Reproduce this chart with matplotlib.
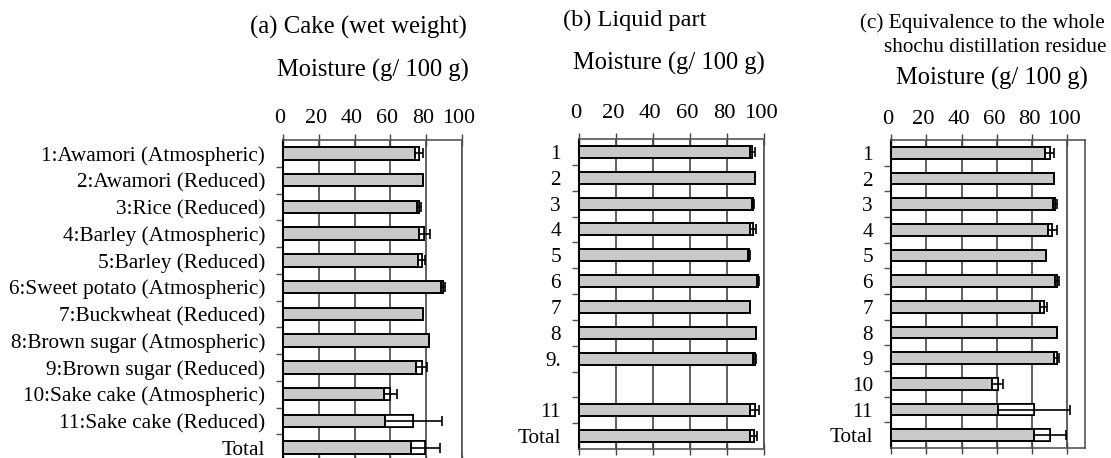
import matplotlib
matplotlib.use('Agg')
import matplotlib.pyplot as plt
from matplotlib.transforms import ScaledTranslation
import numpy as np

plt.rcParams['font.family'] = ['Liberation Serif', 'DejaVu Serif']

# category labels
labels_a = ['1:Awamori (Atmospheric)', '2:Awamori (Reduced)', '3:Rice (Reduced)',
            '4:Barley (Atmospheric)', '5:Barley (Reduced)', '6:Sweet potato (Atmospheric)',
            '7:Buckwheat (Reduced)', '8:Brown sugar (Atmospheric)', '9:Brown sugar (Reduced)',
            '10:Sake cake (Atmospheric)', '11:Sake cake (Reduced)', 'Total']
labels_b = ['1', '2', '3', '4', '5', '6', '7', '8', '9.', '', '11', 'Total']
labels_c = ['1', '2', '3', '4', '5', '6', '7', '8', '9', '10', '11', 'Total']
xticks = [0, 20, 40, 60, 80, 100]

# moisture (g/100 g) and error
cake = [76, 78, 76, 79, 77.5, 89.5, 78, 81.7, 77.5, 60, 72.8, 79.5]
cake_err = [2, 0, 1, 3, 2, 1, 0, 0, 3, 3.5, 15.8, 8]
liquid = [93.7, 95.1, 94, 94, 91.9, 96.8, 92.3, 95.5, 95, np.nan, 95, 94.4]
liquid_err = [1.5, 0, 0.6, 1.5, 0.6, 0.6, 0, 0, 0.8, 0, 2.5, 2]
whole = [90, 92.6, 93, 91.5, 88, 94, 86.5, 94, 94, 60.4, 80.9, 90]
whole_err = [2.5, 0, 1, 2.5, 0, 1, 2.2, 0, 1.5, 3.3, 20.5, 9]

W, H = 1111, 458
fig = plt.figure(figsize=(W / 100, H / 100), dpi=100)


def px_axes(l, t, r, b):
    return fig.add_axes([l / W, 1 - b / H, (r - l) / W, (b - t) / H])


def panel(ax, vals, errs, labels, xmax, ticksize, tickpad):
    y = np.arange(len(labels))
    vals = np.array(vals, dtype=float)
    errs = np.array(errs, dtype=float)
    ok = ~np.isnan(vals)
    ax.barh(y[ok], vals[ok], height=0.46, color='#c9c9c9', edgecolor='black',
            linewidth=1.4, zorder=3)
    # excel-like error bar: open box on the lower half, whisker on the upper
    e = ok & (errs > 0)
    ax.barh(y[e], errs[e], left=vals[e] - errs[e], height=0.46, color='white',
            edgecolor='black', linewidth=1.2, zorder=4)
    ax.errorbar(vals[e], y[e], xerr=errs[e], fmt='none', ecolor='black',
                elinewidth=1.2, capsize=3.5, capthick=1.2, zorder=5)
    ax.set_xlim(0, xmax)
    ax.set_ylim(len(labels) - 0.5, -0.5)
    ax.set_xticks(xticks)
    ax.xaxis.tick_top()
    ax.tick_params(axis='x', top=True, bottom=True, direction='inout', length=9,
                   width=1, color='#444444', labelsize=ticksize, pad=tickpad)
    shift = ScaledTranslation(-3 / 100, 0, fig.dpi_scale_trans)
    for lab in ax.get_xticklabels():
        lab.set_transform(lab.get_transform() + shift)
    ax.set_yticks(y)
    ax.set_yticklabels(labels)
    ax.set_yticks(np.arange(0.5, len(labels) - 1, 1), minor=True)
    ax.tick_params(axis='y', which='major', length=0, labelsize=15.3, pad=13)
    ax.tick_params(axis='y', which='minor', length=5, width=1, color='#555555')
    ax.grid(axis='x', color='#444444', linewidth=1.2, zorder=0)
    for s in ['top', 'bottom', 'right']:
        ax.spines[s].set_color('#555555')
        ax.spines[s].set_linewidth(1.2)
    ax.spines['left'].set_linewidth(1.5)


ax_a = px_axes(283, 140, 462, 461)
panel(ax_a, cake, cake_err, labels_a, 100, 15.8, 4)
ax_b = px_axes(579, 139, 764, 449)
panel(ax_b, liquid, liquid_err, labels_b, 100, 16.2, 6.8)
ax_c = px_axes(891, 140, 1085, 448)
panel(ax_c, whole, whole_err, labels_c, 110, 16.2, 3.6)


def ftext(x, y, s, size, ha='left'):
    fig.text(x / W, 1 - y / H, s, fontsize=size, ha=ha, va='center')


ftext(250, 27, '(a) Cake (wet weight)', 17.8)
ftext(277, 70, 'Moisture (g/ 100 g)', 17.7)
ftext(563, 20, '(b) Liquid part', 17.5)
ftext(573, 63, 'Moisture (g/ 100 g)', 17.7)
ftext(1105, 23, '(c) Equivalence to the whole', 15.3, ha='right')
ftext(1107, 47, 'shochu distillation residue', 15.2, ha='right')
ftext(896, 78, 'Moisture (g/ 100 g)', 17.7)

fig.savefig('out.png', dpi=100)
